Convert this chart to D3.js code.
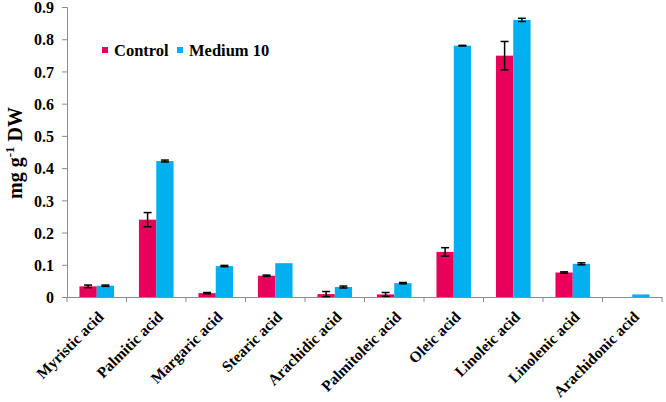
<!DOCTYPE html>
<html>
<head>
<meta charset="utf-8">
<script src="https://cdn.jsdelivr.net/npm/d3@7"></script>
<style>
body { margin: 0; background: #fff; }
</style>
</head>
<body>
<svg width="666" height="402"></svg>
<script>
// data
var acids = ["Myristic acid", "Palmitic acid", "Margaric acid", "Stearic acid", "Arachidic acid",
             "Palmitoleic acid", "Oleic acid", "Linoleic acid", "Linolenic acid", "Arachidonic acid"];
var controlVals = [0.033, 0.240, 0.012, 0.066, 0.009, 0.008, 0.140, 0.749, 0.076, 0];
var controlErr  = [0.004, 0.022, 0.002, 0.002, 0.008, 0.006, 0.013, 0.044, 0.002, 0];
var mediumVals  = [0.035, 0.422, 0.096, 0.105, 0.031, 0.043, 0.780, 0.860, 0.103, 0.008];
var mediumErr   = [0.002, 0.003, 0.002, 0, 0.003, 0.002, 0.001, 0.005, 0.003, 0];
var series = ["Control", "Medium 10"];
var yTicks = [0, 0.1, 0.2, 0.3, 0.4, 0.5, 0.6, 0.7, 0.8, 0.9];

var colors = {"Control": "#e8005a", "Medium 10": "#00b0f0"};
var serif = "'Liberation Serif', 'Times New Roman', 'DejaVu Serif', serif";

var svg = d3.select("svg");
var mLeft = 67, mRight = 662, mTop = 7, mBottom = 297;

var x = d3.scaleBand().domain(acids).range([mLeft, mRight]);
var xs = d3.scaleBand().domain(series).range([0, x.bandwidth()]).paddingInner(0).paddingOuter(0.72);
var y = d3.scaleLinear().domain([0, 0.9]).range([mBottom, mTop]);

var rows = acids.map(function(a, i) {
    return [
        {acid: a, s: "Control", v: controlVals[i], e: controlErr[i]},
        {acid: a, s: "Medium 10", v: mediumVals[i], e: mediumErr[i]}
    ];
});
var flat = [].concat.apply([], rows);

// axes
var yAxis = svg.append("g")
    .attr("transform", "translate(" + mLeft + ",0)")
    .call(d3.axisLeft(y).tickValues(yTicks).tickSize(5).tickPadding(8)
        .tickFormat(function(d) { return d === 0 ? "0" : d3.format(".1f")(d); }));
yAxis.attr("font-family", serif).attr("font-size", 16).attr("font-weight", "bold");
yAxis.select(".domain").attr("stroke", "#8c8c8c");
yAxis.selectAll(".tick line").attr("stroke", "#8c8c8c");
yAxis.selectAll("text").attr("fill", "#000").attr("dy", "0.36em");

var xAxis = svg.append("g")
    .attr("transform", "translate(0," + mBottom + ")")
    .call(d3.axisBottom(x).tickSize(0).tickFormat(""));
xAxis.select(".domain").attr("stroke", "#8c8c8c");
// ticks between categories
svg.append("g").selectAll("line")
    .data(acids.concat(["end"]))
    .enter()
    .append("line")
    .attr("x1", function(d, i) { return i < acids.length ? x(d) : mRight; })
    .attr("x2", function(d, i) { return i < acids.length ? x(d) : mRight; })
    .attr("y1", mBottom)
    .attr("y2", mBottom + 5)
    .attr("stroke", "#8c8c8c");

// bars
svg.append("g").selectAll("rect")
    .data(flat.filter(function(d) { return d.v > 0; }))
    .enter()
    .append("rect")
    .attr("x", function(d) { return x(d.acid) + xs(d.s); })
    .attr("y", function(d) { return y(d.v); })
    .attr("width", xs.bandwidth())
    .attr("height", function(d) { return mBottom - y(d.v); })
    .attr("fill", function(d) { return colors[d.s]; });

// error bars
var eb = svg.append("g").selectAll("g")
    .data(flat.filter(function(d) { return d.v > 0 && d.e > 0; }))
    .enter()
    .append("g")
    .attr("stroke", "#000")
    .attr("stroke-width", 1.5);
eb.append("line")
    .attr("x1", function(d) { return x(d.acid) + xs(d.s) + xs.bandwidth() / 2; })
    .attr("x2", function(d) { return x(d.acid) + xs(d.s) + xs.bandwidth() / 2; })
    .attr("y1", function(d) { return y(d.v + d.e); })
    .attr("y2", function(d) { return y(Math.max(0, d.v - d.e)); });
eb.selectAll(".cap")
    .data(function(d) { return [[d, d.v + d.e], [d, Math.max(0, d.v - d.e)]]; })
    .enter()
    .append("line")
    .attr("x1", function(p) { return x(p[0].acid) + xs(p[0].s) + xs.bandwidth() / 2 - 4; })
    .attr("x2", function(p) { return x(p[0].acid) + xs(p[0].s) + xs.bandwidth() / 2 + 4; })
    .attr("y1", function(p) { return y(p[1]); })
    .attr("y2", function(p) { return y(p[1]); });

// x labels
svg.append("g").selectAll("text")
    .data(acids)
    .enter()
    .append("text")
    .attr("transform", function(d) {
        return "translate(" + (x(d) + x.bandwidth() / 2 + 4) + "," + (mBottom + 17) + ") rotate(-45)";
    })
    .attr("text-anchor", "end")
    .attr("font-family", serif)
    .attr("font-weight", "bold")
    .attr("font-size", 15.5)
    .attr("dy", "0.35em")
    .text(function(d) { return d; });

// y title
var yt = svg.append("text")
    .attr("transform", "translate(22,153) rotate(-90)")
    .attr("text-anchor", "middle")
    .attr("font-family", serif)
    .attr("font-weight", "bold")
    .attr("font-size", 20);
yt.append("tspan").text("mg g");
yt.append("tspan").attr("font-size", 13).attr("dy", -8).text("-1");
yt.append("tspan").attr("dy", 8).text(" DW");

// legend
var legendX = [102, 177];
var lg = svg.append("g").selectAll("g")
    .data(series)
    .enter()
    .append("g")
    .attr("transform", function(d, i) { return "translate(" + legendX[i] + ",47)"; });
lg.append("rect").attr("width", 6).attr("height", 6)
    .attr("fill", function(d) { return colors[d]; });
lg.append("text").attr("x", 12).attr("y", 9)
    .attr("font-family", serif)
    .attr("font-weight", "bold")
    .attr("font-size", 16.5)
    .text(function(d) { return d; });
</script>
</body>
</html>
